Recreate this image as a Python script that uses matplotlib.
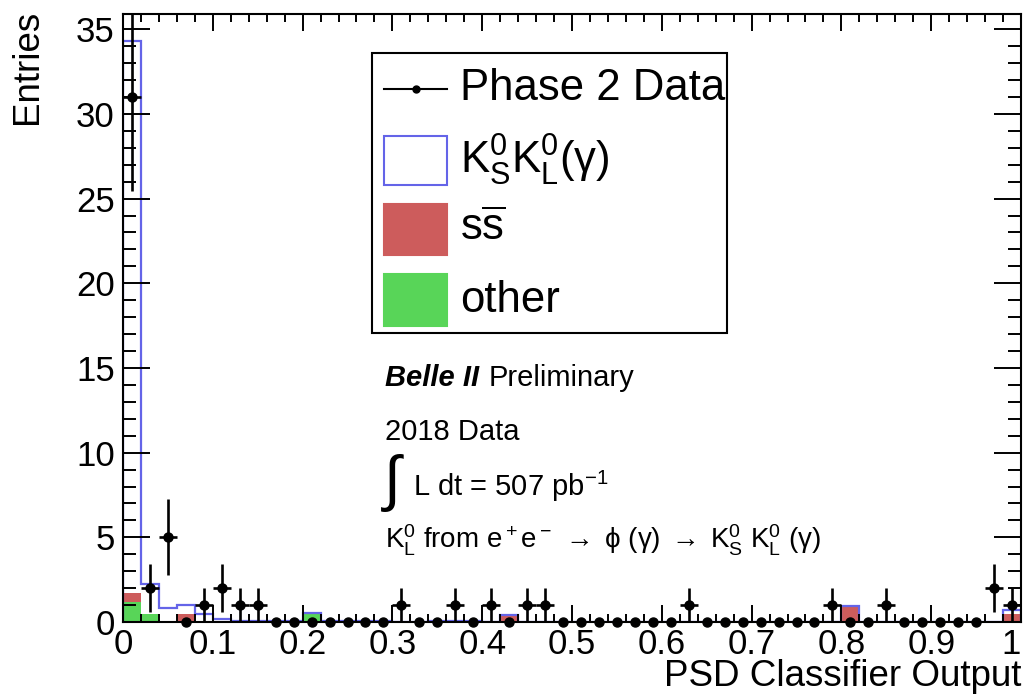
import numpy as np
import matplotlib.pyplot as plt
from matplotlib.patches import Rectangle
from matplotlib.lines import Line2D
from matplotlib.ticker import MultipleLocator, FuncFormatter

plt.rcParams['font.family'] = ['Liberation Sans', 'DejaVu Sans']
plt.rcParams['mathtext.fontset'] = 'custom'
plt.rcParams['mathtext.rm'] = 'Liberation Sans'
plt.rcParams['mathtext.it'] = 'Liberation Sans:italic'
plt.rcParams['mathtext.bf'] = 'Liberation Sans:bold'

# 50 bins of width 0.02 on [0, 1]
edges = np.linspace(0, 1, 51)

data = [31, 2, 5, 0, 1, 2, 1, 1, 0, 0,
        0, 0, 0, 0, 0, 1, 0, 0, 1, 0,
        1, 0, 1, 1, 0, 0, 0, 0, 0, 0,
        0, 1, 0, 0, 0, 0, 0, 0, 0, 1,
        0, 0, 1, 0, 0, 0, 0, 0, 2, 1]

other = [1.2, 0.5, 0, 0, 0, 0, 0, 0, 0, 0,
         0.45, 0, 0, 0, 0, 0, 0, 0, 0, 0,
         0, 0, 0, 0, 0, 0, 0, 0, 0, 0,
         0, 0, 0, 0, 0, 0, 0, 0, 0, 0,
         0, 0, 0, 0, 0, 0, 0, 0, 0, 0]

ssbar = [0.5, 0, 0, 0.5, 0, 0, 0, 0, 0, 0,
         0, 0, 0, 0, 0, 0, 0, 0, 0, 0,
         0, 0.4, 0, 0, 0, 0, 0, 0, 0, 0,
         0, 0, 0, 0, 0, 0, 0, 0, 0, 0,
         0.9, 0, 0, 0, 0, 0, 0, 0, 0, 0.5]

kskl = [32.6, 1.75, 0.85, 0.5, 0.45, 0.15, 0.05, 0.05, 0.05, 0.05,
        0.1, 0.05, 0.05, 0.05, 0.05, 0, 0, 0.05, 0.05, 0.05,
        0, 0, 0, 0, 0, 0, 0, 0, 0, 0,
        0, 0, 0, 0, 0, 0, 0, 0, 0, 0,
        0.07, 0, 0, 0, 0, 0, 0, 0, 0, 0.2]

x_ticks = [0, 0.1, 0.2, 0.3, 0.4, 0.5, 0.6, 0.7, 0.8, 0.9, 1]
x_ticklabels = ['0', '0.1', '0.2', '0.3', '0.4', '0.5', '0.6', '0.7', '0.8', '0.9', '1']

RED = '#cd5c5c'
GREEN = '#58d558'
BLUE = '#6464e8'

W, H = 1028, 699


def px(x, y):
    # pixel position -> figure fraction
    return x / W, 1 - y / H


fig = plt.figure(figsize=(W / 100, H / 100), dpi=100)
ax = fig.add_axes([123 / W, 77 / H, 898 / W, 608 / H])

other = np.array(other)
ssbar = np.array(ssbar)
kskl = np.array(kskl)
data = np.array(data)

# stacked MC: other, s sbar, then K_S K_L on top
ax.stairs(other + ssbar, edges, baseline=other, fill=True, color=RED, lw=0)
ax.stairs(other, edges, baseline=0, fill=True, color=GREEN, lw=0)
ax.stairs(other + ssbar + kskl, edges, baseline=0, color=BLUE, lw=1.6)

# data points with Poisson errors
centers = 0.5 * (edges[:-1] + edges[1:])
nz = data > 0
ax.errorbar(centers[nz], data[nz], yerr=np.sqrt(data[nz]), xerr=0.01,
            fmt='none', ecolor='black', elinewidth=1.9)
ax.plot(centers, data, 'o', color='black', ms=6.5, clip_on=False, zorder=5)

ax.set_xlim(0, 1)
ax.set_ylim(0, 35.9)

ax.set_xticks(x_ticks, x_ticklabels)
ax.xaxis.set_minor_locator(MultipleLocator(0.02))
ax.yaxis.set_major_locator(MultipleLocator(5))
ax.yaxis.set_minor_locator(MultipleLocator(1))
ax.yaxis.set_major_formatter(FuncFormatter(lambda v, p: '%g' % v))

ax.tick_params(which='both', direction='in', top=True, right=True,
               width=1.4, labelsize=25)
ax.tick_params(axis='x', which='major', length=12.5, pad=4)
ax.tick_params(axis='x', which='minor', length=6)
ax.tick_params(axis='y', which='major', length=19.5, pad=6)
ax.tick_params(axis='y', which='minor', length=9.5)
for s in ax.spines.values():
    s.set_linewidth(1.5)

# keep the last x label inside the canvas
ax.get_xticklabels()[-1].set_horizontalalignment('right')

fig.text(*px(1021, 676), 'PSD Classifier Output', fontsize=26.5,
         ha='right', va='center')
fig.text(*px(28, 10), 'Entries', fontsize=26.5, rotation=90,
         ha='center', va='top')

# legend box
x0, y0 = px(372, 333)
x1, y1 = px(727, 53)
fig.add_artist(Rectangle((x0, y0), x1 - x0, y1 - y0, transform=fig.transFigure,
                         fill=False, ec='black', lw=1.5))

lx, ly = px(384, 89)
rx, _ = px(447, 89)
fig.add_artist(Line2D([lx, rx], [ly, ly], transform=fig.transFigure,
                      color='black', lw=1.5, marker=None))
fig.add_artist(Line2D([(lx + rx) / 2], [ly], transform=fig.transFigure,
                      color='black', marker='o', ms=5))

boxes = [(136, 185, 'white', BLUE), (204, 255, RED, RED), (274, 326, GREEN, GREEN)]
for top, bot, fc, ec in boxes:
    bx, by = px(384, bot)
    _, ty = px(384, top)
    fig.add_artist(Rectangle((bx, by), 63 / W, ty - by, transform=fig.transFigure,
                             fc=fc, ec=ec, lw=1.5))

labels = ['Phase 2 Data', r'$\mathrm{K^0_SK^0_L(\gamma)}$',
          r'$\mathrm{s\overline{s}}$', 'other']
for yc, lab in zip([89, 160, 229, 300], labels):
    fig.text(*px(460, yc), lab, fontsize=31.5, ha='left', va='center')

# experiment labels
fig.text(*px(385, 378), 'Belle II', fontsize=21, fontweight='bold',
         style='italic', ha='left', va='center')
fig.text(*px(489, 378), 'Preliminary', fontsize=21, ha='left', va='center')
fig.text(*px(385, 432), '2018 Data', fontsize=21, ha='left', va='center')
fig.text(*px(381, 483), r'$\int$', fontsize=44, ha='left', va='center')
fig.text(*px(413, 486), r'L dt = 507 pb$^{\mathrm{-1}}$', fontsize=21,
         ha='left', va='center')
fig.text(*px(385, 540),
         r'$\mathrm{K^0_L\ from\ e^+e^-\;\rightarrow\;\phi\ (\gamma)\;\rightarrow\;K^0_S\ K^0_L\ (\gamma)}$',
         fontsize=20, ha='left', va='center')

fig.savefig('out.png', dpi=100)
